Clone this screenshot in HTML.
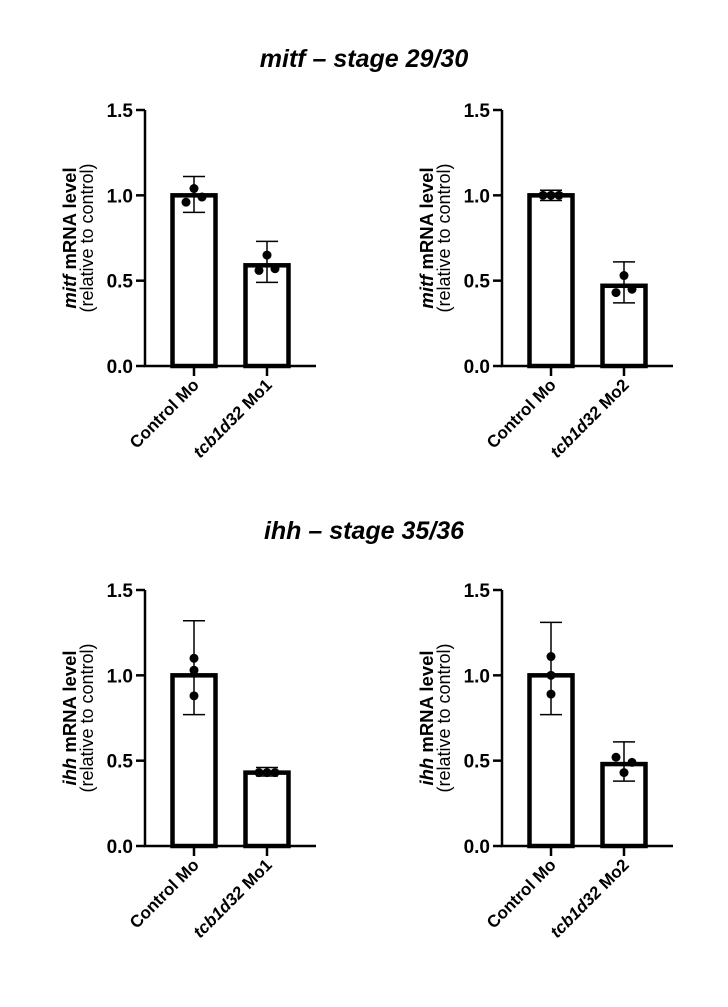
<!DOCTYPE html>
<html><head><meta charset="utf-8"><style>
body{margin:0;background:#fff;width:728px;height:1002px;overflow:hidden}
text{font-family:"Liberation Sans",sans-serif;fill:#000}
</style></head><body>
<svg id="fig" width="728" height="1002">
<text x="364" y="67" text-anchor="middle" font-size="25" font-weight="bold" font-style="italic">mitf – stage 29/30</text>
<text x="364" y="539" text-anchor="middle" font-size="25" font-weight="bold" font-style="italic">ihh – stage 35/36</text>
</svg>
<script>
const gene = ['mitf','mitf','ihh','ihh'];
const cats = [['Control Mo','Mo1'],['Control Mo','Mo2'],['Control Mo','Mo1'],['Control Mo','Mo2']];
const means = [[1.0,0.59],[1.0,0.47],[1.0,0.43],[1.0,0.48]];
const errLo = [[0.90,0.49],[0.97,0.37],[0.77,0.41],[0.77,0.38]];
const errHi = [[1.11,0.73],[1.03,0.61],[1.32,0.46],[1.31,0.61]];
const pts = [[[0.96,1.04,0.99],[0.56,0.65,0.57]],[[1.0,1.0,1.0],[0.43,0.53,0.45]],[[1.10,1.03,0.88],[0.43,0.43,0.43]],[[1.11,1.0,0.89],[0.52,0.43,0.49]]];
const ticks = [0,0.5,1.0,1.5];
const tickLabels = ['0.0','0.5','1.0','1.5'];
const NS='http://www.w3.org/2000/svg';
const svg=document.getElementById('fig');
function mk(t,a,p){const e=document.createElementNS(NS,t);for(const k in a)e.setAttribute(k,a[k]);(p||svg).appendChild(e);return e;}
const panels=[{ax:145,y0:366},{ax:502,y0:366},{ax:145,y0:846},{ax:502,y0:846}];
panels.forEach((P,pi)=>{
  const g=mk('g',{});
  
  
  const y=v=>P.y0-v*(256/1.5);
  const xc=i=>P.ax+49+i*73;
  means[pi].forEach((m,i)=>{
    const r=mk('rect',{x:xc(i)-21.5,y:y(m),width:43,height:P.y0-y(m),fill:'#fff',stroke:'#000','stroke-width':4.5},g);
    
    
    const e=mk('path',{d:`M${xc(i)} ${y(errLo[pi][i])}V${y(errHi[pi][i])}M${xc(i)-11} ${y(errHi[pi][i])}h22M${xc(i)-11} ${y(errLo[pi][i])}h22`,stroke:'#000','stroke-width':1.5,fill:'none'},g);
    
    
    const offs=(pi>=2&&i===0)?[0,0,0]:[-8,0,8];
    pts[pi][i].forEach((v,k)=>{
      const c=mk('circle',{cx:xc(i)+offs[k],cy:y(v),r:4.5,fill:'#000'},g);
      
      
    });
    const tk=mk('line',{x1:xc(i),x2:xc(i),y1:P.y0,y2:P.y0+10,stroke:'#000','stroke-width':2.5},g);
    
    
    const tx=mk('text',{transform:`translate(${xc(i)+6},${P.y0+20}) rotate(-45)`,'text-anchor':'end','font-size':17,'font-weight':'bold'},g);
    
    
    if(i===0){tx.textContent=cats[pi][0];}
    else{const s=mk('tspan',{'font-style':'italic'},tx);s.textContent='tcb1d32';const s2=mk('tspan',{},tx);s2.textContent=' '+cats[pi][1];}
  });
  const ax=mk('path',{d:`M${P.ax} ${y(1.5)}V${P.y0}H${P.ax+171}`,stroke:'#000','stroke-width':2.5,fill:'none'},g);
  
  
  ticks.forEach((t,k)=>{
    const l=mk('line',{x1:P.ax-9,x2:P.ax,y1:y(t),y2:y(t),stroke:'#000','stroke-width':2.5},g);
    
    
    const tx=mk('text',{x:P.ax-12,y:y(t)+7,'text-anchor':'end','font-size':19,'font-weight':'bold'},g);
    
    
    tx.textContent=tickLabels[k];
  });
  const cy=P.y0-128;
  const t1=mk('text',{transform:`translate(${P.ax-69},${cy}) rotate(-90)`,'text-anchor':'middle','font-size':18.5,'font-weight':'bold'},g);
  
  
  const a=mk('tspan',{'font-style':'italic'},t1);a.textContent=gene[pi];
  const b=mk('tspan',{},t1);b.textContent=' mRNA level';
  const t2=mk('text',{transform:`translate(${P.ax-52},${cy}) rotate(-90)`,'text-anchor':'middle','font-size':18},g);
  
  
  t2.textContent='(relative to control)';
});
</script>
</body></html>
